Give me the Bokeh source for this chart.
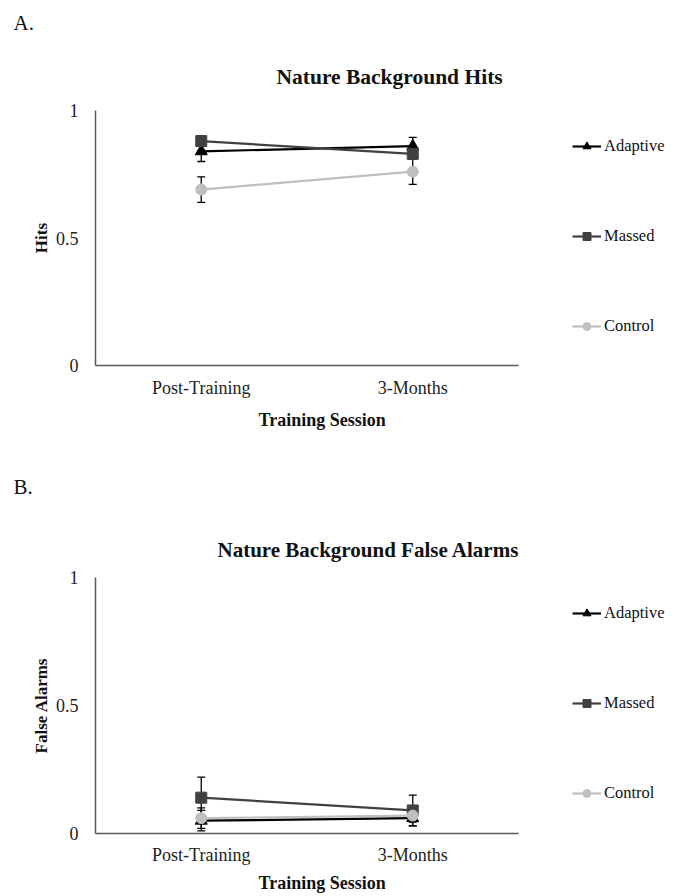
from bokeh.plotting import figure
from bokeh.models import (ColumnDataSource, Range1d, Whisker, TeeHead,
                          Legend, LegendItem, Title, FixedTicker)
from bokeh.layouts import column
from bokeh.embed import file_html
from bokeh.resources import INLINE

# Categories and groups
sessions = ["Post-Training", "3-Months"]
groups = ["Adaptive", "Massed", "Control"]

# Hit rates (means and error-bar half widths)
hits_adaptive = [0.84, 0.86]
hits_massed = [0.88, 0.83]
hits_control = [0.69, 0.76]
hits_adaptive_err = [0.04, 0.035]
hits_massed_err = [0.02, 0.02]
hits_control_err = [0.05, 0.05]

# False alarm rates (means and error-bar half widths)
fa_adaptive = [0.05, 0.06]
fa_massed = [0.14, 0.09]
fa_control = [0.06, 0.07]
fa_adaptive_err = [0.04, 0.03]
fa_massed_err = [0.08, 0.06]
fa_control_err = [0.04, 0.025]

# Y tick values and labels
y_ticks = [0, 0.5, 1]
y_tick_labels = ["0", "0.5", "1"]

FONT = "Liberation Serif"
AXIS_COLOR = "#595959"
STYLE = {
    "Adaptive": dict(color="#000000", marker="triangle", size=12),
    "Massed": dict(color="#404040", marker="square", size=11),
    "Control": dict(color="#bfbfbf", marker="circle", size=11),
}

# each session occupies one unit on the x scale, centred at i + 0.5
x_pos = [i + 0.5 for i in range(len(sessions))]
AXES_W = 423          # pixel width of the plotted axes box
FRAME_W = 680 - 95    # drawing area continues to the right to hold the legend


def make_panel(letter, title, ylabel, means, errs, height, top, bottom,
               title_offset, title_size, title_standoff, letter_standoff,
               tick_standoff, xlabel_standoff, legend_vy):
    p = figure(width=680, height=height,
               x_range=Range1d(0, len(sessions) * FRAME_W / AXES_W),
               y_range=Range1d(0, 1), output_backend="svg", toolbar_location=None,
               min_border_left=95, min_border_right=0,
               min_border_top=top, min_border_bottom=bottom)
    p.outline_line_color = None
    p.xgrid.visible = False
    p.ygrid.visible = False
    p.background_fill_color = "white"
    p.border_fill_color = "white"

    # panel letter (outermost) and chart title (next to the axes box)
    p.title = Title(text=letter, align="left", offset=-82, standoff=letter_standoff,
                    text_font=FONT, text_font_style="normal",
                    text_font_size="21px", text_color="#111111")
    p.add_layout(Title(text=title, align="left", offset=title_offset,
                       standoff=title_standoff, text_font=FONT, text_font_style="bold",
                       text_font_size=title_size, text_color="#111111"), "above")

    for ax in (p.xaxis[0], p.yaxis[0]):
        ax.axis_line_color = AXIS_COLOR
        ax.axis_line_width = 1.5
        ax.major_tick_line_color = None
        ax.minor_tick_line_color = None
        ax.major_label_text_font = FONT
        ax.major_label_text_font_size = "18px"
        ax.major_label_text_color = "#222222"
        ax.axis_label_text_font = FONT
        ax.axis_label_text_font_style = "bold"
        ax.axis_label_text_color = "#111111"

    p.yaxis.ticker = FixedTicker(ticks=y_ticks)
    p.yaxis.major_label_overrides = dict(zip(y_ticks, y_tick_labels))
    p.yaxis.major_label_standoff = 11
    p.yaxis.axis_label = ylabel
    p.yaxis.axis_label_text_font_size = "17px"
    p.yaxis.axis_label_standoff = 2

    p.xaxis.bounds = (0, len(sessions))
    p.xaxis.ticker = FixedTicker(ticks=x_pos)
    p.xaxis.major_label_overrides = dict(zip(x_pos, sessions))
    p.xaxis.major_label_standoff = tick_standoff
    p.add_layout(Title(text="Training Session", align="left", offset=163,
                       standoff=xlabel_standoff, text_font=FONT, text_font_style="bold",
                       text_font_size="18px", text_color="#111111"), "below")

    items = []
    for g in groups:
        st = STYLE[g]
        src = ColumnDataSource(dict(
            x=x_pos, y=means[g],
            upper=[m + e for m, e in zip(means[g], errs[g])],
            lower=[m - e for m, e in zip(means[g], errs[g])],
        ))
        p.add_layout(Whisker(source=src, base="x", upper="upper", lower="lower",
                             line_color="black", line_width=1.3,
                             upper_head=TeeHead(size=8, line_color="black", line_width=1.3),
                             lower_head=TeeHead(size=8, line_color="black", line_width=1.3)))
        ln = p.line("x", "y", source=src, line_color=st["color"], line_width=2.2)
        mk = p.scatter("x", "y", source=src, marker=st["marker"], size=st["size"],
                       fill_color=st["color"], line_color=st["color"])
        items.append(LegendItem(label=g, renderers=[ln, mk]))

    legend = Legend(items=items, location=(AXES_W + 54, legend_vy), orientation="vertical",
                    spacing=70, padding=0, margin=0, glyph_width=29, glyph_height=20,
                    label_standoff=3, label_text_font=FONT, label_text_font_size="16.5px",
                    label_text_color="#111111", border_line_color=None,
                    background_fill_alpha=0)
    p.add_layout(legend)
    return p


pa = make_panel("A.", "Nature Background Hits", "Hits",
                {"Adaptive": hits_adaptive, "Massed": hits_massed, "Control": hits_control},
                {"Adaptive": hits_adaptive_err, "Massed": hits_massed_err, "Control": hits_control_err},
                height=448, top=110, bottom=83,
                title_offset=181, title_size="21.5px", title_standoff=44, letter_standoff=12,
                tick_standoff=6, xlabel_standoff=14, legend_vy=29)

pb = make_panel("B.", "Nature Background False Alarms", "False Alarms",
                {"Adaptive": fa_adaptive, "Massed": fa_massed, "Control": fa_control},
                {"Adaptive": fa_adaptive_err, "Massed": fa_massed_err, "Control": fa_control_err},
                height=448, top=129, bottom=63,
                title_offset=122, title_size="21px", title_standoff=32, letter_standoff=41,
                tick_standoff=5, xlabel_standoff=6, legend_vy=30)

layout = column(pa, pb, spacing=0)
open("out.html", "w").write(file_html(layout, INLINE))
